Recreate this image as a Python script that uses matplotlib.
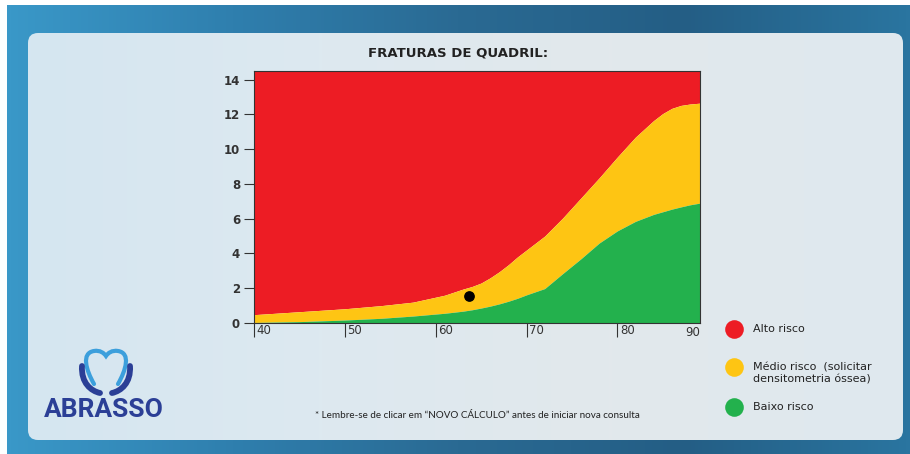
import numpy as np
import matplotlib.pyplot as plt
from matplotlib.patches import FancyBboxPatch, PathPatch
from matplotlib.path import Path
from matplotlib.colors import LinearSegmentedColormap
import matplotlib.transforms as mtransforms

# Limites das faixas de risco
idades = [40, 45, 50, 54, 57.5, 61, 63, 64, 65, 66, 67, 68, 69, 70, 72, 74, 76, 78, 80, 82, 84, 85,
          86, 87, 88, 89.1]
limite_medio = [0.48, 0.65, 0.82, 1.0, 1.2, 1.6, 1.95, 2.1, 2.3, 2.6, 2.95, 3.35, 3.8, 4.2, 5.0, 6.05,
                7.2, 8.35, 9.55, 10.7, 11.65, 12.05, 12.35, 12.52, 12.6, 12.65]
limite_baixo = [0.03, 0.08, 0.17, 0.27, 0.4, 0.56, 0.68, 0.76, 0.86, 0.97, 1.1, 1.25, 1.42, 1.62, 1.98,
                2.85, 3.7, 4.6, 5.3, 5.85, 6.25, 6.4, 6.55, 6.68, 6.8, 6.9]
paciente_idade = 63.7
paciente_risco = 1.55

y_ticks = [0, 2, 4, 6, 8, 10, 12, 14]
x_ticks = [40, 50, 60, 70, 80]
x_ultimo = "90"

legenda = ["Alto risco", "Médio risco  (solicitar\ndensitometria óssea)", "Baixo risco"]
cores = ["#ed1c24", "#fec513", "#23b14d"]

fig = plt.figure(figsize=(9.1, 4.54), dpi=100)
fig.patch.set_facecolor("white")

# --- Fundo em pixels ---
bg = fig.add_axes([0, 0, 1, 1])
bg.set_xlim(0, 910)
bg.set_ylim(454, 0)
bg.axis("off")
cmap_bg = LinearSegmentedColormap.from_list("bg", ["#3a98c8", "#2f7fae", "#2a6a93", "#245e85", "#2a75a0"])
grad = np.tile(np.linspace(0, 1, 256), (20, 1))
bg.imshow(grad, cmap=cmap_bg, extent=(7, 910, 454, 5), aspect="auto", zorder=0)

panel = FancyBboxPatch((28, 33), 875, 407, boxstyle="round,pad=0,rounding_size=10",
                       facecolor="none", edgecolor="none", zorder=1)
bg.add_patch(panel)
cmap_panel = LinearSegmentedColormap.from_list("pn", ["#d5e6f1", "#dde9f0", "#e2e8ec", "#dfe9ef"])
im = bg.imshow(grad, cmap=cmap_panel, extent=(28, 903, 440, 33), aspect="auto", zorder=1)
im.set_clip_path(panel)

# --- Logo ABRASSO ---
dente = Path([(94, 384),
              (86, 370), (81, 353), (94, 351),
              (100, 350), (104, 353), (106, 356),
              (108, 353), (112, 350), (118, 351),
              (131, 353), (126, 370), (118, 384)],
             [Path.MOVETO] + [Path.CURVE4] * 12)
bg.add_patch(PathPatch(dente, facecolor="none", edgecolor="#3c9fdc", lw=3.0, zorder=3, capstyle="round"))
mao_esq = Path([(82, 366), (81, 383), (91, 391), (100, 393)],
               [Path.MOVETO, Path.CURVE4, Path.CURVE4, Path.CURVE4])
mao_dir = Path([(130, 366), (131, 383), (121, 391), (112, 393)],
               [Path.MOVETO, Path.CURVE4, Path.CURVE4, Path.CURVE4])
for m in (mao_esq, mao_dir):
    bg.add_patch(PathPatch(m, facecolor="none", edgecolor="#2b3f96", lw=4.2, zorder=3, capstyle="round"))
bg.text(104, 410, "ABRASSO", color="#2b3f96", fontsize=19, fontweight="bold", family="Roboto",
        ha="center", va="center", zorder=4)

# --- Textos ---
bg.text(458, 53, "FRATURAS DE QUADRIL:", fontsize=9.5, fontweight="bold", color="#222222",
        ha="center", va="center", zorder=4)
bg.text(315, 415, "* Lembre-se de clicar em \u201cNOVO C\u00c1LCULO\u201d antes de iniciar nova consulta",
        fontsize=7.1, family="Lato", color="#222222", ha="left", va="center", zorder=4)

# --- Legenda ---
ys_leg = [329, 367, 407]
for cor, txt, yl in zip(cores, legenda, ys_leg):
    bg.scatter([734], [yl], s=180, color=cor, zorder=4, linewidths=0)
    bg.text(753, yl if "\n" not in txt else yl + 7, txt, fontsize=8, color="#222222",
            ha="left", va="center", linespacing=1.25, zorder=4)

# --- Gráfico ---
ax = fig.add_axes([254 / 910, 1 - 323 / 454, 446 / 910, 252 / 454])
ax.set_xlim(40, 89.1)
ax.set_ylim(0, 14.5)
ax.fill_between(idades, limite_medio, 14.5, color=cores[0], lw=0)
ax.fill_between(idades, limite_baixo, limite_medio, color=cores[1], lw=0)
ax.fill_between(idades, 0, limite_baixo, color=cores[2], lw=0)
ax.scatter([paciente_idade], [paciente_risco], s=45, color="black", zorder=5)

for s in ax.spines.values():
    s.set_linewidth(0.8)
    s.set_color("#333333")

ax.set_yticks(y_ticks)
ax.set_yticklabels([str(v) for v in y_ticks], fontsize=8.5, fontweight="bold", color="#333333")
ax.tick_params(axis="y", length=7, width=0.8, pad=3, color="#333333")

ax.set_xticks(x_ticks)
ax.set_xticklabels([str(v) for v in x_ticks], fontsize=8.5, color="#333333")
ax.tick_params(axis="x", length=10, width=0.8, pad=-9, color="#333333")
desloc = mtransforms.ScaledTranslation(2 / 72, 0, fig.dpi_scale_trans)
for lab in ax.get_xticklabels():
    lab.set_ha("left")
    lab.set_transform(lab.get_transform() + desloc)
ax.text(1.0, -0.012, x_ultimo, transform=ax.transAxes, fontsize=8.5, color="#333333",
        ha="right", va="top")

fig.savefig("out.png", dpi=100)
